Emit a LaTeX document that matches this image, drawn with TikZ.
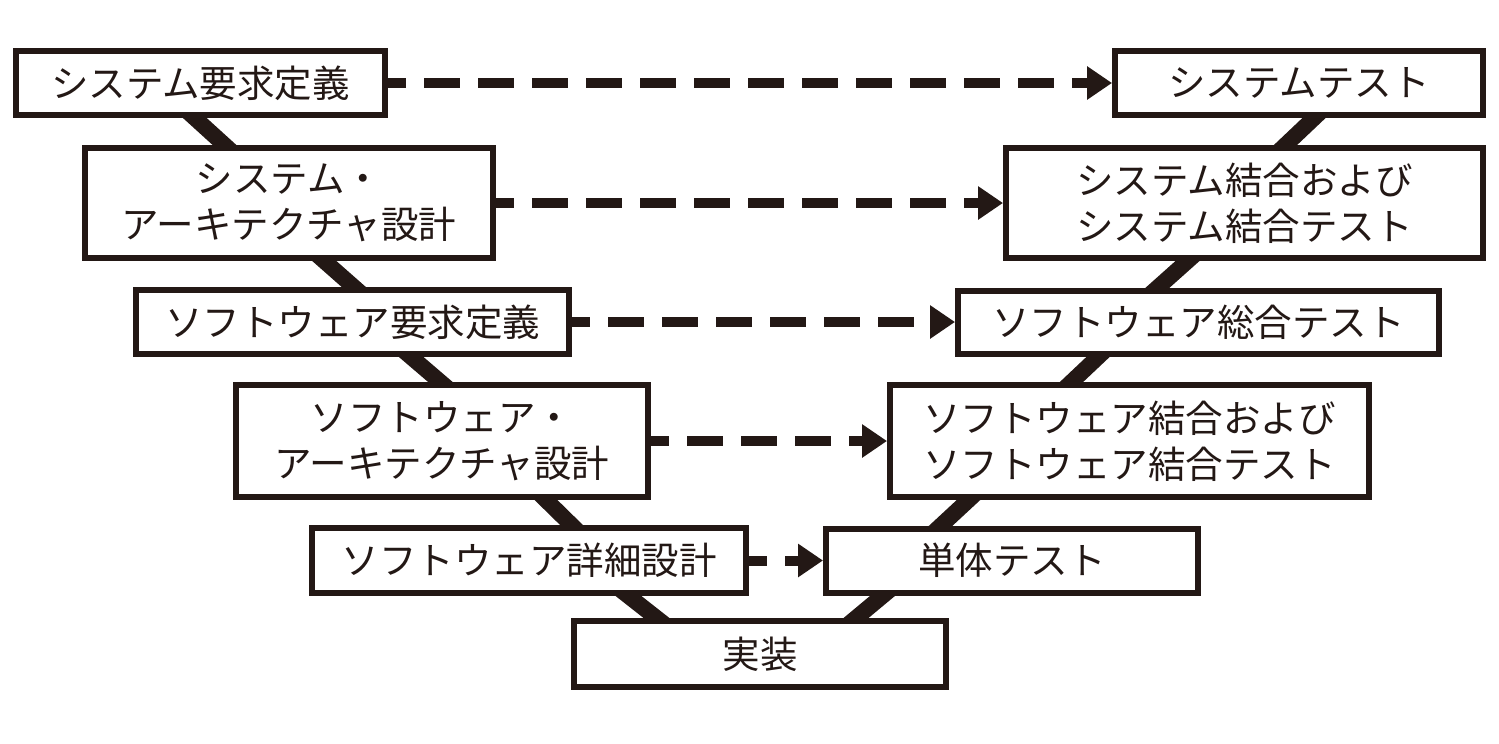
\documentclass[tikz,border=0pt]{standalone}
\usepackage{fontspec}
\setmainfont{Noto Sans CJK JP}
\usepackage{xcolor}
\usepackage{tikz}
\usetikzlibrary{backgrounds}
\usetikzlibrary{calc}
\usetikzlibrary{arrows.meta}
\definecolor{ink}{HTML}{231815}

\begin{document}
\begin{tikzpicture}[x=0.5pt, y=-0.5pt, every node/.style={draw=ink, line width=3pt, fill=white, text=ink, inner sep=0pt, align=center, font=\fontsize{18.75pt}{23pt}\selectfont}, vstroke/.style={draw=ink, line width=8pt, shorten <=-8pt, shorten >=-8pt}, flow/.style={draw=ink, line width=5pt, dash pattern=on 18pt off 9pt, dash phase=9pt, -{Triangle[length=12.5pt, width=16pt]}}]
  \useasboundingbox (0,0) rectangle (1499,744);
  \node[minimum width=184.5pt, minimum height=32pt] (sysreq) at (200.5,83) {システム要求定義};
  \node[minimum width=204pt, minimum height=55pt] (sysarch) at (289,203) {システム・\\アーキテクチャ設計};
  \node[minimum width=216.5pt, minimum height=32pt] (swreq) at (352.5,322) {ソフトウェア要求定義};
  \node[minimum width=206pt, minimum height=56pt] (swarch) at (442,441) {ソフトウェア・\\アーキテクチャ設計};
  \node[minimum width=217pt, minimum height=32.5pt] (swdetail) at (529,560.5) {ソフトウェア詳細設計};
  \node[minimum width=186pt, minimum height=33pt] (impl) at (760,654) {実装};
  \node[minimum width=186pt, minimum height=32pt] (unittest) at (1012,560.5) {単体テスト};
  \node[minimum width=239.5pt, minimum height=56pt] (swinteg) at (1129.5,441) {ソフトウェア結合および\\ソフトウェア結合テスト};
  \node[minimum width=240.5pt, minimum height=31.5pt] (swtest) at (1198.5,322) {ソフトウェア総合テスト};
  \node[minimum width=238.5pt, minimum height=55pt] (sysinteg) at (1244.5,203) {システム結合および\\システム結合テスト};
  \node[minimum width=184pt, minimum height=32pt] (systest) at (1299,83) {システムテスト};
  \begin{scope}[on background layer]
    \draw[vstroke] ($(sysreq.south)+(-5.7,0)$) -- ($(sysarch.north)+(-64.5,0)$);
    \draw[vstroke] ($(sysarch.south)+(35.3,0)$) -- ($(swreq.north)+(1.3,0)$);
    \draw[vstroke] ($(swreq.south)+(58.7,0)$) -- ($(swarch.north)+(-1.6,0)$);
    \draw[vstroke] ($(swarch.south)+(104,0)$) -- ($(swdetail.north)+(42.5,0)$);
    \draw[vstroke] ($(swdetail.south)+(99.5,0)$) -- ($(impl.north)+(-103.5,0)$);
    \draw[vstroke] ($(impl.north)+(96,0)$) -- ($(unittest.south)+(-129,0)$);
    \draw[vstroke] ($(unittest.north)+(-71,0)$) -- ($(swinteg.south)+(-161,0)$);
    \draw[vstroke] ($(swinteg.north)+(-58,0)$) -- ($(swtest.south)+(-100,0)$);
    \draw[vstroke] ($(swtest.north)+(-40.7,0)$) -- ($(sysinteg.south)+(-57,0)$);
    \draw[vstroke] ($(sysinteg.north)+(41,0)$) -- ($(systest.south)+(15,0)$);
  \end{scope}
  \draw[flow] (sysreq.east) -- (systest.west);
  \draw[flow] (sysarch.east) -- (sysinteg.west);
  \draw[flow] (swreq.east) -- (swtest.west);
  \draw[flow] (swarch.east) -- (swinteg.west);
  \draw[flow] (swdetail.east) -- (unittest.west);
\end{tikzpicture}
\end{document}
